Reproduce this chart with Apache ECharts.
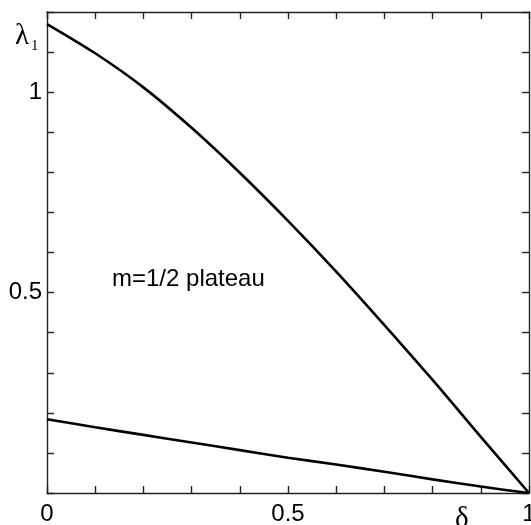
<!DOCTYPE html>
<html>
<head>
<meta charset="utf-8">
<script src="https://cdn.jsdelivr.net/npm/echarts@6/dist/echarts.min.js"></script>
<style>html,body{margin:0;padding:0;background:#fff}#c{width:531px;height:525px}</style>
</head>
<body>
<div id="c"></div>
<script>
const delta = [0, 0.1, 0.2, 0.3, 0.4, 0.5, 0.6, 0.7, 0.8, 0.9, 1.0];
const upperCurve = [1.170, 1.097, 1.012, 0.911, 0.799, 0.679, 0.5525, 0.419, 0.282, 0.140, 0];
const lowerCurve = [0.184, 0.164, 0.145, 0.126, 0.107, 0.088, 0.071, 0.053, 0.034, 0.016, 0];
const xTickLabels = ['0', '0.5', '1'];
const yTickLabels = ['0.5', '1'];
const annotation = 'm=1/2 plateau';

const chart = echarts.init(document.getElementById('c'), null, {renderer: 'canvas'});
const axisLineStyle = {color: '#222', width: 1.4};
const fmt = (labels) => (v) => {
  for (const l of labels) { if (Math.abs(v - parseFloat(l)) < 1e-6) return l; }
  return '';
};
const labelFont = {fontFamily: 'Liberation Sans, Arial, sans-serif', fontSize: 24, color: '#000'};
function mk(d) { return delta.map((x, i) => [x, d[i]]); }
function axisCommon() {
  return {
    axisLine: {show: true, onZero: false, lineStyle: axisLineStyle},
    axisTick: {show: true, inside: true, length: 7, lineStyle: axisLineStyle},
    splitLine: {show: false}
  };
}

chart.setOption({
  animation: false,
  backgroundColor: '#fff',
  grid: {left: 47, top: 12, right: 2, bottom: 32, containLabel: false, outerBoundsMode: 'none'},
  xAxis: [
    Object.assign(axisCommon(), {type: 'value', min: 0, max: 1, interval: 0.1, position: 'bottom',
     axisLabel: Object.assign({formatter: fmt(xTickLabels), margin: 9, showMinLabel: true, showMaxLabel: true, hideOverlap: false}, labelFont)}),
    Object.assign(axisCommon(), {type: 'value', min: 0, max: 1, interval: 0.1, position: 'top',
     axisLabel: {show: false}})
  ],
  yAxis: [
    Object.assign(axisCommon(), {type: 'value', min: 0, max: 1.2, interval: 0.1, position: 'left',
     axisLabel: Object.assign({formatter: fmt(yTickLabels), margin: 5}, labelFont)}),
    Object.assign(axisCommon(), {type: 'value', min: 0, max: 1.2, interval: 0.1, position: 'right',
     axisLabel: {show: false}})
  ],
  series: [
    {type: 'line', data: mk(upperCurve), smooth: 0.3, symbol: 'none',
     lineStyle: {color: '#000', width: 2.6}, xAxisIndex: 0, yAxisIndex: 0},
    {type: 'line', data: mk(lowerCurve), smooth: 0.3, symbol: 'none',
     lineStyle: {color: '#000', width: 2.6}, xAxisIndex: 0, yAxisIndex: 0}
  ],
  graphic: [
    {type: 'text', left: 112, top: 267,
     style: {text: annotation, fontFamily: 'Liberation Sans, Arial, sans-serif', fontSize: 24, fill: '#000'}},
    {type: 'text', left: 15, top: 22,
     style: {text: 'λ', fontFamily: 'Liberation Serif, Times New Roman, serif', fontSize: 29, fill: '#000'}},
    {type: 'text', left: 31, top: 39,
     style: {text: '1', fontFamily: 'Liberation Serif, Times New Roman, serif', fontSize: 15, fill: '#000'}},
    {type: 'text', left: 455, top: 505,
     style: {text: 'δ', fontFamily: 'Liberation Serif, Times New Roman, serif', fontSize: 29, fill: '#000'}}
  ]
});
</script>
</body>
</html>
